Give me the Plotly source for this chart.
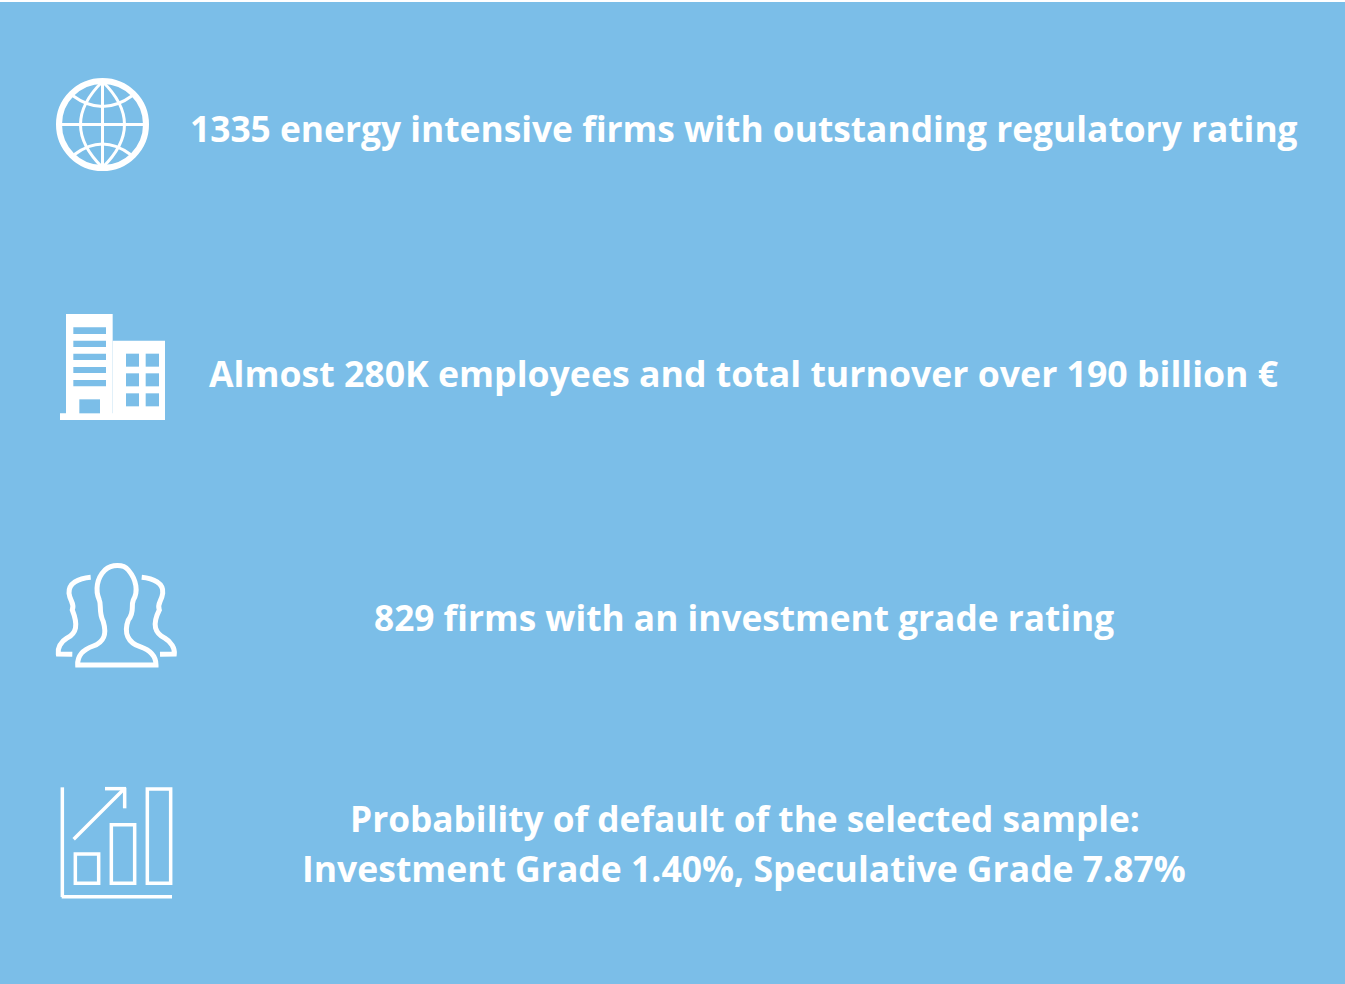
import plotly.graph_objects as go

BG = "#7bbee8"
WHITE = "#ffffff"
W, H = 1345, 984

captions = [
    "1335 energy intensive firms with outstanding regulatory rating",
    "Almost 280K employees and total turnover over 190 billion €",
    "829 firms with an investment grade rating",
    "Probability of default of the selected sample:",
    "Investment Grade 1.40%, Speculative Grade 7.87%",
]
caption_x = [744, 744, 744, 744.5, 744]
caption_y = [128, 373, 617, 818, 868]
caption_size = [35.35, 35.65, 35.25, 35.25, 35.5]


def zx(x0, z):
    return x0 + z / 3


shapes = [dict(type="rect", x0=0, x1=W, y0=0, y1=2, fillcolor=WHITE, line_width=0)]


def line(x0, y0, x1, y1, w=3):
    shapes.append(dict(type="line", x0=x0, y0=y0, x1=x1, y1=y1, line=dict(color=WHITE, width=w)))


def path(d, w=3):
    shapes.append(dict(type="path", path=d, line=dict(color=WHITE, width=w)))


def rect(x0, y0, x1, y1, fill):
    shapes.append(dict(type="rect", x0=x0, y0=y0, x1=x1, y1=y1, fillcolor=fill, line_width=0))


def orect(x0, y0, x1, y1, w=3.5):
    shapes.append(dict(type="rect", x0=x0, y0=y0, x1=x1, y1=y1, line=dict(color=WHITE, width=w)))


# Globe icon
cx, cy = 102.5, 124.5
shapes.append(dict(type="circle", x0=cx - 43.5, x1=cx + 43.5, y0=cy - 43.5, y1=cy + 43.5,
                   line=dict(color=WHITE, width=6)))
line(cx, cy - 43, cx, cy + 43)
line(cx - 43, cy, cx + 43, cy)
path(f"M {cx} {cy-43} Q {cx-44} {cy} {cx} {cy+43}")
path(f"M {cx} {cy-43} Q {cx+44} {cy} {cx} {cy+43}")
path(f"M {cx-30} {cy-29} Q {cx} {cy-7} {cx+30} {cy-29}")
path(f"M {cx-28} {cy+30} Q {cx} {cy+9} {cx+28} {cy+30}")

# Building icon
bx, by = 40, 300
rect(zx(bx, 78), by + 42 / 3, zx(bx, 218), by + 345 / 3, WHITE)
rect(zx(bx, 218), by + 122 / 3, zx(bx, 375), by + 360 / 3, WHITE)
rect(zx(bx, 60), by + 340 / 3, zx(bx, 375), by + 360 / 3, WHITE)
for a, b in [(82, 102), (122, 141), (161, 180), (201, 219), (240, 259)]:
    rect(zx(bx, 100), by + a / 3, zx(bx, 198), by + b / 3, BG)
rect(zx(bx, 118), by + 298 / 3, zx(bx, 180), by + 340 / 3, BG)
for a, b in [(161, 200), (220, 259), (280, 319)]:
    rect(zx(bx, 258), by + a / 3, zx(bx, 297), by + b / 3, BG)
    rect(zx(bx, 317), by + a / 3, zx(bx, 357), by + b / 3, BG)


def zpath(x0, y0, cmds):
    out = []
    for c in cmds:
        if isinstance(c, str):
            out.append(c)
        else:
            out.append(f"{x0 + c[0] / 3:.1f} {y0 + c[1] / 3:.1f}")
    return " ".join(out)


# People icon
px, py = 40, 550
path(zpath(px, py, [
    "M", (113, 345), "C", (112, 320), (125, 300), (160, 288),
    "C", (195, 275), (200, 250), (190, 215),
    "C", (175, 185), (185, 165), (178, 150),
    "C", (165, 120), (170, 85), (195, 60),
    "C", (215, 43), (250, 42), (265, 60),
    "C", (290, 90), (295, 125), (280, 150),
    "C", (272, 170), (285, 185), (265, 210),
    "C", (250, 250), (265, 278), (300, 290),
    "C", (335, 302), (348, 320), (348, 345),
    "Z",
]), w=5)
path(zpath(px, py, [
    "M", (152, 82), "C", (115, 85), (85, 100), (87, 130),
    "C", (90, 155), (105, 160), (97, 180),
    "C", (115, 225), (110, 250), (80, 265),
    "C", (62, 275), (52, 295), (55, 312),
    "L", (97, 313),
]), w=5)
path(zpath(px, py, [
    "M", (305, 82), "C", (340, 85), (372, 100), (368, 130),
    "C", (365, 155), (350, 160), (358, 180),
    "C", (335, 225), (345, 250), (375, 265),
    "C", (393, 275), (405, 295), (403, 312),
    "L", (360, 313),
]), w=5)

# Growth chart icon
gx, gy = 40, 775
line(zx(gx, 67), gy + 37 / 3, zx(gx, 67), gy + 366 / 3, 3.5)
line(zx(gx, 65), gy + 365 / 3, zx(gx, 396), gy + 365 / 3, 3.5)
orect(zx(gx, 106), gy + 237 / 3, zx(gx, 176), gy + 325 / 3)
orect(zx(gx, 214), gy + 149 / 3, zx(gx, 284), gy + 325 / 3)
orect(zx(gx, 322), gy + 42 / 3, zx(gx, 392), gy + 325 / 3)
line(zx(gx, 101), gy + 193 / 3, zx(gx, 252), gy + 42 / 3, 3.5)
line(zx(gx, 195), gy + 41 / 3, zx(gx, 258), gy + 41 / 3, 3.5)
line(zx(gx, 254), gy + 38 / 3, zx(gx, 254), gy + 100 / 3, 3.5)

annotations = [
    dict(x=x, y=y, xref="x", yref="y", text=f"<b>{t}</b>", showarrow=False,
         xanchor="center", yanchor="middle",
         font=dict(family="Open Sans", size=s, color=WHITE))
    for t, x, y, s in zip(captions, caption_x, caption_y, caption_size)
]

fig = go.Figure()
fig.update_layout(
    width=W, height=H, margin=dict(l=0, r=0, t=0, b=0),
    paper_bgcolor=BG, plot_bgcolor=BG, showlegend=False,
    xaxis=dict(range=[0, W], visible=False, fixedrange=True),
    yaxis=dict(range=[H, 0], visible=False, fixedrange=True),
    shapes=shapes, annotations=annotations,
)
fig.write_html("out.html", post_script="document.body.style.margin='0';", config=dict(displayModeBar=False))
